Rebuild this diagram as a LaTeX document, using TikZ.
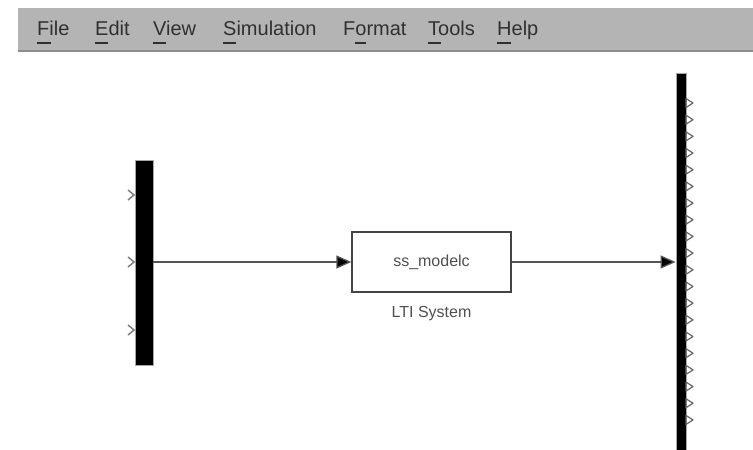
\documentclass[tikz,border=0pt]{standalone}
\usepackage{fontspec}
\setmainfont{Liberation Sans}
\usetikzlibrary{arrows.meta}
\definecolor{barbg}{HTML}{B4B4B4}
\definecolor{barline}{HTML}{8C8C8C}
\definecolor{menutext}{HTML}{303030}
\definecolor{wire}{HTML}{555555}
\definecolor{labeltext}{HTML}{505050}
\tikzset{
  menuitem/.style={anchor=base west, inner sep=0pt, text=menutext,
    font=\fontsize{20}{24}\selectfont},
  hotkey/.style={draw=menutext, line width=2pt},
  busbar/.style={draw=gray!70, fill=black, line width=0.8pt, inner sep=0pt},
  block/.style={draw=wire!80!black, line width=1.3pt, fill=white, inner sep=0pt,
    minimum width=159pt, minimum height=60pt, text=labeltext,
    font=\fontsize{16}{19}\selectfont},
  caption/.style={anchor=base, inner sep=0pt, text=labeltext,
    font=\fontsize{16}{19}\selectfont},
  wireline/.style={draw=wire, line width=1.3pt,
    -{Triangle[length=15pt,width=13pt,fill=black]}},
  inport/.style={draw=gray, line width=1.5pt},
  outport/.style={draw=gray!80!black, line width=1.2pt, line join=round},
}
\begin{document}
\begin{tikzpicture}[x=1pt,y=-1pt]
  \useasboundingbox (0,0) rectangle (753,450);
  \fill[white] (0,0) rectangle (753,450);

  % menu bar
  \fill[barbg] (18,8) rectangle (753,52);
  \draw[barline, line width=2pt] (18,51) -- (753,51);
  \node[menuitem] (mFile) at (37,35) {File};
  \node[menuitem] (mEdit) at (95,35) {Edit};
  \node[menuitem] (mView) at (153,35) {View};
  \node[menuitem] (mSim)  at (223,35) {Simulation};
  \node[menuitem] (mFmt)  at (343,35) {Format};
  \node[menuitem] (mTools) at (428,35) {Tools};
  \node[menuitem] (mHelp) at (497,35) {Help};
  \draw[hotkey] (37,43) -- (51,43);
  \draw[hotkey] (95,43) -- (108,43);
  \draw[hotkey] (153,43) -- (166,43);
  \draw[hotkey] (223,43) -- (236,43);
  \draw[hotkey] (355,43) -- (366,43);
  \draw[hotkey] (428,43) -- (441,43);
  \draw[hotkey] (497,43) -- (511,43);

  % mux bar with three inputs
  \node[busbar, minimum width=18pt, minimum height=205pt] (mux) at (144,262.5) {};
  \foreach \yy in {195,262,330}
    \draw[inport] (128,\yy-5) -- (134,\yy) -- (128,\yy+5);

  % LTI block
  \node[block] (sys) at (431.5,262) {ss\_modelc};
  \node[caption] (syscap) at (431.5,317) {LTI System};

  % demux bar with twenty outputs
  \node[busbar, minimum width=10pt, minimum height=380pt] (demux) at (681,263) {};
  \foreach \k in {0,...,19}
    \draw[outport] (686,{103+16.68*\k-4.5}) -- (693,{103+16.68*\k}) -- (686,{103+16.68*\k+4.5}) -- cycle;

  % signal lines
  \draw[wireline] (mux.east |- sys.west) -- (sys.west);
  \draw[wireline] (sys.east) -- (sys.east -| demux.west);
\end{tikzpicture}
\end{document}
